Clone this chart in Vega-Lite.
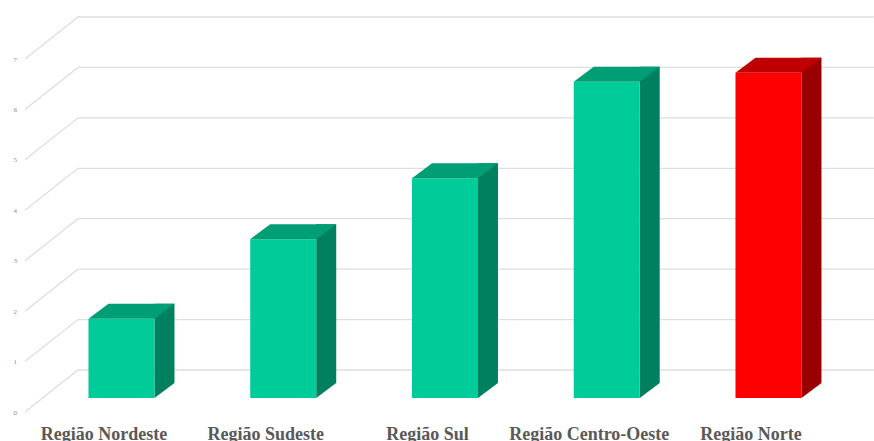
{
  "$schema": "https://vega.github.io/schema/vega-lite/v6.json",
  "autosize": "none",
  "padding": {"left": 40.6, "top": 59, "right": 24.65, "bottom": 29},
  "width": 808.75,
  "height": 353,
  "background": "white",
  "config": {
    "view": {"stroke": null},
    "axisX": {"domain": false, "ticks": false, "grid": false, "labelFont": "Liberation Serif", "labelFontWeight": "bold", "labelFontSize": 18, "labelColor": "#595959", "labelOffset": -17.5, "labelPadding": 13, "labelAngle": 0, "labelLimit": 0},
    "axisY": {"domain": false, "ticks": false, "grid": false, "labelFont": "Liberation Serif", "labelFontSize": 7, "labelColor": "#8c8c8c", "labelPadding": 24, "tickCount": 8}
  },
  "datasets": {
    "regioes": [
      {"regiao": "Região Nordeste", "valor": 1.57},
      {"regiao": "Região Sudeste", "valor": 3.15},
      {"regiao": "Região Sul", "valor": 4.36},
      {"regiao": "Região Centro-Oeste", "valor": 6.27},
      {"regiao": "Região Norte", "valor": 6.45}
    ],
    "grade": [
      {"valor": 0}, {"valor": 1}, {"valor": 2}, {"valor": 3},
      {"valor": 4}, {"valor": 5}, {"valor": 6}, {"valor": 7}
    ]
  },
  "layer": [
    {
      "data": {"name": "grade"},
      "mark": {"type": "point", "shape": "M-96.5,0L-43.5,-42L752.5,-42", "size": 4, "filled": false, "stroke": "#dedede", "strokeWidth": 1.3, "opacity": 1},
      "encoding": {
        "x": {"datum": "Região Nordeste", "type": "nominal", "title": null},
        "y": {"field": "valor", "type": "quantitative", "title": null}
      }
    },
    {
      "data": {"name": "regioes"},
      "mark": {"type": "bar", "width": 20, "xOffset": 43, "yOffset": -29, "y2Offset": -29},
      "encoding": {
        "x": {"field": "regiao", "type": "nominal", "sort": null, "title": null},
        "y": {"field": "valor", "type": "quantitative", "title": null},
        "color": {"condition": {"test": "datum.regiao === 'Região Norte'", "value": "#990000"}, "value": "#00805e"}
      }
    },
    {
      "data": {"name": "regioes"},
      "mark": {"type": "point", "shape": "M33,0L33,-15L53,-15Z", "size": 4, "filled": true, "opacity": 1, "strokeWidth": 0, "yOffset": -14},
      "encoding": {
        "x": {"field": "regiao", "type": "nominal", "sort": null, "title": null},
        "y": {"datum": 0, "type": "quantitative", "title": null},
        "color": {"condition": {"test": "datum.regiao === 'Região Norte'", "value": "#990000"}, "value": "#00805e"}
      }
    },
    {
      "data": {"name": "regioes"},
      "mark": {"type": "bar", "yOffset": -14, "y2Offset": -14},
      "encoding": {
        "x": {"field": "regiao", "type": "nominal", "sort": null, "title": null, "scale": {"paddingInner": 0.592, "paddingOuter": 0.296}},
        "y": {"field": "valor", "type": "quantitative", "title": null, "scale": {"domain": [0, 7], "nice": false}},
        "color": {"condition": {"test": "datum.regiao === 'Região Norte'", "value": "#ff0000"}, "value": "#00cc99"}
      }
    },
    {
      "data": {"name": "regioes"},
      "mark": {"type": "point", "shape": "M-33,0L33,0L53,-15L-13,-15Z", "size": 4, "filled": true, "opacity": 1, "strokeWidth": 0, "yOffset": -14},
      "encoding": {
        "x": {"field": "regiao", "type": "nominal", "sort": null, "title": null},
        "y": {"field": "valor", "type": "quantitative", "title": null},
        "color": {"condition": {"test": "datum.regiao === 'Região Norte'", "value": "#c00000"}, "value": "#009e74"}
      }
    }
  ]
}
